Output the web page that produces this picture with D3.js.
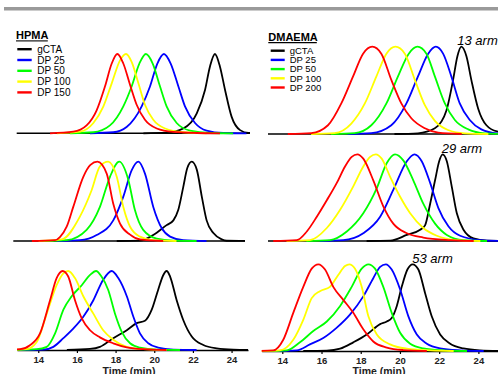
<!DOCTYPE html>
<html>
<head>
<meta charset="utf-8">
<script src="https://cdn.jsdelivr.net/npm/d3@7"></script>
<style>
  body { margin: 0; background: #fff; }
  svg { display: block; font-family: "Liberation Sans", Arial, sans-serif; }
</style>
</head>
<body>
<div id="viz"></div>
<script>
// series order in every panel: gCTA, DP 25, DP 50, DP 100, DP 150/200
// points are [time (min), normalised RI signal]
const seriesLeft = ["gCTA", "DP 25", "DP 50", "DP 100", "DP 150"];
const seriesRight = ["gCTA", "DP 25", "DP 50", "DP 100", "DP 200"];
const colors = ["#000000", "#0000ff", "#00ff00", "#ffff00", "#ff0000"];
const armLabels = ["13 arm", "29 arm", "53 arm"];
const timeTicks = [14, 16, 18, 20, 22, 24];

// HPMA, 13 arm
const hpma13 = [
  [[20.64,0.008],[21.5,0.06],[22.2,0.25],[22.63,0.55],[22.88,0.84],[23.14,1],[23.4,0.84],[23.66,0.55],[24.0,0.21],[24.44,0.04],[24.87,0.004]],
  [[17.88,0.013],[18.57,0.08],[19.35,0.34],[19.78,0.59],[20.16,0.88],[20.5,1],[20.85,0.88],[21.25,0.59],[21.59,0.34],[22.11,0.13],[22.71,0.034],[23.57,0.004]],
  [[16.85,0.013],[17.71,0.1],[18.4,0.34],[18.83,0.59],[19.23,0.88],[19.57,1],[19.92,0.88],[20.3,0.59],[20.64,0.34],[21.16,0.13],[21.85,0.034],[22.88,0.004]],
  [[16.16,0.02],[16.85,0.13],[17.37,0.34],[17.8,0.63],[18.23,0.92],[18.54,1],[18.83,0.9],[19.18,0.63],[19.52,0.36],[19.95,0.17],[20.56,0.06],[21.5,0.013]],
  [[15.81,0.02],[16.5,0.1],[17.02,0.29],[17.45,0.59],[17.8,0.88],[18.09,1],[18.4,0.88],[18.75,0.61],[19.09,0.36],[19.52,0.17],[20.13,0.06],[20.99,0.017],[22.2,0.004]]
];

// HPMA, 29 arm
const hpma29 = [
  [[19.26,0.004],[19.95,0.075],[20.64,0.2],[20.99,0.26],[21.24,0.39],[21.5,0.68],[21.71,0.92],[21.94,1],[22.2,0.9],[22.46,0.56],[22.71,0.26],[23.06,0.1],[23.49,0.02],[23.75,0.003]],
  [[16.16,0.01],[17.02,0.075],[17.88,0.26],[18.4,0.56],[18.83,0.89],[19.18,1],[19.52,0.85],[19.95,0.43],[20.39,0.16],[20.82,0.055],[21.5,0.01]],
  [[15.47,0.01],[16.5,0.14],[17.19,0.43],[17.71,0.81],[18.19,1],[18.66,0.77],[19.0,0.39],[19.43,0.14],[20.13,0.03],[20.99,0.005]],
  [[15.21,0.02],[16.16,0.31],[16.76,0.64],[17.19,0.94],[17.62,1],[18.06,0.81],[18.4,0.43],[18.75,0.18],[19.26,0.055],[19.95,0.01]],
  [[14.87,0.01],[15.12,0.05],[15.47,0.18],[15.81,0.43],[16.33,0.81],[16.7,0.96],[17.06,1],[17.54,0.85],[17.88,0.47],[18.23,0.22],[18.75,0.08],[19.26,0.02]]
];

// HPMA, 53 arm
const hpma53 = [
  [[16.68,0.013],[17.19,0.04],[17.88,0.15],[18.58,0.25],[19.09,0.34],[19.52,0.37],[19.87,0.51],[20.2,0.76],[20.47,0.95],[20.64,1],[20.82,0.93],[21.16,0.63],[21.5,0.38],[21.94,0.17],[22.54,0.063],[23.23,0.02],[24.09,0.004]],
  [[14.26,0.005],[14.78,0.04],[15.3,0.15],[15.81,0.27],[16.33,0.42],[16.85,0.63],[17.36,0.89],[17.8,1],[18.14,0.91],[18.58,0.68],[18.92,0.42],[19.26,0.21],[19.69,0.085],[20.2,0.03],[20.99,0.005]],
  [[13.92,0.01],[14.44,0.04],[14.87,0.21],[15.3,0.51],[15.73,0.68],[16.25,0.82],[16.68,0.95],[16.99,1],[17.27,0.93],[17.62,0.76],[17.97,0.46],[18.32,0.23],[18.75,0.085],[19.26,0.03],[20.13,0.005]],
  [[13.4,0.01],[13.92,0.1],[14.44,0.46],[14.95,0.82],[15.3,0.97],[15.55,1],[15.9,0.91],[16.33,0.68],[16.85,0.46],[17.36,0.25],[17.88,0.13],[18.58,0.04],[19.43,0.01]],
  [[13.06,0.01],[13.57,0.06],[14.09,0.21],[14.61,0.63],[14.95,0.91],[15.26,1],[15.55,0.93],[15.9,0.63],[16.25,0.4],[16.68,0.25],[17.19,0.16],[17.88,0.085],[18.58,0.034],[19.43,0.01]]
];

// DMAEMA, 13 arm
const dmaema13 = [
  [[20.92,0.008],[21.78,0.065],[22.37,0.27],[22.71,0.62],[22.93,0.89],[23.13,1],[23.39,0.89],[23.64,0.62],[23.99,0.29],[24.41,0.1],[24.95,0.03]],
  [[18.54,0.01],[19.56,0.1],[20.33,0.35],[20.92,0.66],[21.44,0.92],[21.83,1],[22.2,0.92],[22.62,0.66],[23.05,0.35],[23.56,0.16],[24.15,0.053],[24.95,0.008]],
  [[17.69,0.01],[18.54,0.1],[19.31,0.35],[19.9,0.66],[20.45,0.92],[20.89,1],[21.35,0.92],[21.78,0.66],[22.29,0.35],[22.8,0.16],[23.48,0.053],[24.33,0.008]],
  [[16.67,0.01],[17.52,0.12],[18.21,0.35],[18.8,0.66],[19.31,0.92],[19.77,1],[20.25,0.92],[20.76,0.62],[21.27,0.33],[21.78,0.15],[22.45,0.046],[23.31,0.008]],
  [[15.48,0.01],[16.33,0.1],[17.01,0.35],[17.61,0.66],[18.12,0.92],[18.59,1],[19.05,0.92],[19.56,0.62],[20.07,0.35],[20.58,0.18],[21.27,0.065],[21.95,0.015]]
];

// DMAEMA, 29 arm
const dmaema29 = [
  [[19.5,0.004],[20.35,0.07],[21.03,0.13],[21.28,0.18],[21.54,0.43],[21.79,0.7],[22.0,0.92],[22.18,1],[22.39,0.92],[22.64,0.63],[22.9,0.32],[23.24,0.13],[23.75,0.03],[24.43,0.004]],
  [[17.11,0.01],[18.13,0.09],[18.99,0.28],[19.66,0.59],[20.35,0.92],[20.74,1],[21.11,0.92],[21.54,0.67],[21.96,0.38],[22.47,0.17],[23.07,0.06],[24.09,0.01]],
  [[16.43,0.01],[17.29,0.11],[18.13,0.32],[18.82,0.61],[19.33,0.9],[19.75,1],[20.17,0.93],[20.68,0.7],[21.19,0.43],[21.79,0.2],[22.39,0.07],[23.24,0.01]],
  [[15.41,0.01],[16.27,0.15],[16.95,0.36],[17.62,0.63],[18.13,0.86],[18.48,0.97],[18.77,1],[19.07,0.95],[19.5,0.74],[20.01,0.51],[20.52,0.32],[21.19,0.15],[21.88,0.06],[22.9,0.01]],
  [[14.74,0.01],[15.25,0.11],[15.76,0.28],[16.27,0.47],[16.78,0.67],[17.2,0.86],[17.54,0.97],[17.83,1],[18.13,0.95],[18.64,0.7],[19.15,0.4],[19.66,0.2],[20.35,0.09],[21.19,0.04],[22.56,0.01]]
];

// DMAEMA, 53 arm
const dmaema53 = [
  [[16.27,0.004],[16.95,0.027],[17.62,0.1],[18.31,0.19],[18.99,0.31],[19.33,0.34],[19.58,0.38],[19.84,0.52],[20.09,0.74],[20.38,0.94],[20.65,1],[20.94,0.94],[21.28,0.67],[21.62,0.4],[22.05,0.19],[22.56,0.084],[23.24,0.03],[24.09,0.008]],
  [[14.74,0.008],[15.41,0.076],[16.09,0.15],[16.78,0.27],[17.45,0.42],[18.13,0.63],[18.64,0.84],[18.99,0.97],[19.28,1],[19.58,0.94],[20.01,0.71],[20.43,0.4],[20.86,0.19],[21.37,0.084],[22.05,0.03],[23.07,0.008]],
  [[14.23,0.008],[14.9,0.1],[15.58,0.23],[16.27,0.34],[16.95,0.52],[17.54,0.74],[18.05,0.95],[18.39,1],[18.73,0.95],[19.15,0.74],[19.58,0.44],[20.01,0.21],[20.52,0.084],[21.19,0.03],[22.22,0.008]],
  [[13.88,0.008],[14.56,0.13],[15.07,0.36],[15.5,0.61],[15.92,0.69],[16.43,0.74],[16.86,0.88],[17.2,0.98],[17.42,1],[17.71,0.95],[18.05,0.74],[18.39,0.4],[18.82,0.19],[19.5,0.076],[20.35,0.027],[21.54,0.008]],
  [[13.54,0.008],[14.05,0.13],[14.56,0.44],[15.07,0.74],[15.5,0.95],[15.84,1],[16.18,0.94],[16.6,0.74],[17.11,0.59],[17.62,0.44],[18.13,0.25],[18.64,0.11],[19.33,0.04],[20.17,0.011]]
];

const W = 498, H = 374;
const svg = d3.select("#viz").append("svg")
  .attr("width", W)
  .attr("height", H);

// grey rule along the top
svg.append("rect")
  .attr("x", 4).attr("y", 7)
  .attr("width", W - 4).attr("height", 3.5)
  .attr("fill", "#9a9a9a");

// one time scale per column
const xLeft = d3.scaleLinear().domain([12.9, 24.85]).range([17, 248]);
const xRight = d3.scaleLinear().domain([12.95, 25]).range([261.7, 498]);

const panels = [
  { data: hpma13, x: xLeft, base: 133.3, peak: 54, clip: [16.7, 250] },
  { data: hpma29, x: xLeft, base: 241, peak: 161.7, clip: [13.3, 245] },
  { data: hpma53, x: xLeft, base: 350, peak: 271, clip: [17, 248], axis: true, titleX: 129 },
  { data: dmaema13, x: xRight, base: 134, peak: 46.7, clip: [268, 498] },
  { data: dmaema29, x: xRight, base: 241, peak: 154.3, clip: [268, 498] },
  { data: dmaema53, x: xRight, base: 351, peak: 264.3, clip: [261.7, 498], axis: true, titleX: 379 }
];

panels.forEach((p, i) => {
  const y = d3.scaleLinear().domain([0, 1]).range([p.base, p.peak]);
  const g = svg.append("g");

  const clipId = "clip" + i;
  svg.append("clipPath").attr("id", clipId)
    .append("rect")
    .attr("x", p.clip[0]).attr("y", p.peak - 10)
    .attr("width", p.clip[1] - p.clip[0])
    .attr("height", p.base - p.peak + 12);

  if (p.axis) {
    const axis = d3.axisBottom(p.x)
      .tickValues(timeTicks)
      .tickSize(3)
      .tickSizeOuter(0);
    const ax = g.append("g")
      .attr("transform", `translate(0,${p.base})`)
      .call(axis);
    ax.select(".domain").attr("stroke", "#000").attr("stroke-width", 1.5);
    ax.selectAll(".tick line").attr("stroke", "#000").attr("stroke-width", 1.2);
    ax.selectAll(".tick text")
      .attr("font-family", "Liberation Sans, Arial, sans-serif")
      .attr("font-size", 9.5)
      .attr("font-weight", "bold")
      .attr("fill", "#222");
    g.append("text")
      .attr("x", p.titleX).attr("y", 374.5)
      .attr("text-anchor", "middle")
      .attr("font-size", 10.5)
      .attr("font-weight", "bold")
      .attr("fill", "#222")
      .text("Time (min)");
  } else {
    g.append("line")
      .attr("x1", p.clip[0]).attr("x2", p.clip[1])
      .attr("y1", p.base).attr("y2", p.base)
      .attr("stroke", "#000").attr("stroke-width", 1.5);
  }

  const line = d3.line()
    .x(d => p.x(d[0]))
    .y(d => y(d[1]))
    .curve(d3.curveMonotoneX);

  const curves = g.append("g").attr("clip-path", `url(#${clipId})`);
  p.data.forEach((pts, k) => {
    const full = [[pts[0][0] - 1.2, 0], ...pts, [pts[pts.length - 1][0] + 1.2, 0]];
    curves.append("path")
      .datum(full)
      .attr("fill", "none")
      .attr("stroke", colors[k])
      .attr("stroke-width", 1.8)
      .attr("stroke-linejoin", "round")
      .attr("d", line);
  });
});

// legends
function legend(title, labels, x, titleY, underline, rowY, step, fs) {
  svg.append("text")
    .attr("x", x.title).attr("y", titleY)
    .attr("font-size", 11)
    .attr("font-weight", "bold")
    .text(title);
  svg.append("line")
    .attr("x1", x.title).attr("x2", underline)
    .attr("y1", titleY + 1.6).attr("y2", titleY + 1.6)
    .attr("stroke", "#000").attr("stroke-width", 1.1);
  labels.forEach((lab, k) => {
    const yy = rowY + k * step;
    svg.append("line")
      .attr("x1", x.line0).attr("x2", x.line1)
      .attr("y1", yy).attr("y2", yy)
      .attr("stroke", colors[k]).attr("stroke-width", 2.4);
    svg.append("text")
      .attr("x", x.text).attr("y", yy)
      .attr("dy", "0.35em")
      .attr("font-size", fs)
      .text(lab);
  });
}
legend("HPMA", seriesLeft, { title: 16, line0: 17.3, line1: 31.7, text: 37.3 }, 39.3, 47.8, 49.2, 10.8, 10);
legend("DMAEMA", seriesRight, { title: 268.3, line0: 270.7, line1: 284.7, text: 289.7 }, 41, 316.8, 50.7, 9.2, 9.5);

// arm labels
const armPos = [[457.3, 45], [441.7, 152.7], [412.3, 263.3]];
armLabels.forEach((t, i) => {
  svg.append("text")
    .attr("x", armPos[i][0]).attr("y", armPos[i][1])
    .attr("font-size", 13)
    .attr("font-style", "italic")
    .text(t);
});
</script>
</body>
</html>
